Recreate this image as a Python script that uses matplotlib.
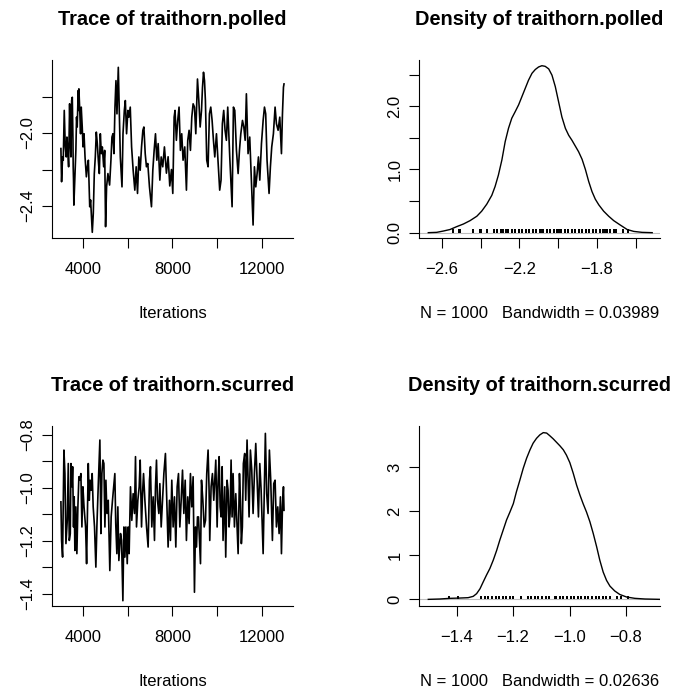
import numpy as np
import matplotlib
matplotlib.use('Agg')
import matplotlib.pyplot as plt

plt.rcParams['font.family'] = ['Liberation Sans', 'DejaVu Sans']
plt.rcParams['font.size'] = 12

# MCMC trace of traithorn.polled (iteration, value)
iter_polled = [3010, 3040, 3085, 3115, 3160, 3205, 3250, 3280, 3325, 3355, 3400, 3430, 3460, 3490,
               3520, 3550, 3560, 3575, 3590, 3635, 3680, 3710, 3740, 3785, 3800, 3815, 3860, 3890,
               3920, 3965, 4000, 4045, 4090, 4150, 4195, 4240, 4300, 4340, 4415, 4460, 4505, 4550,
               4595, 4640, 4685, 4730, 4775, 4820, 4865, 4925, 4970, 5010, 5055, 5115, 5190, 5250,
               5295, 5340, 5385, 5430, 5475, 5520, 5580, 5625, 5670, 5745, 5790, 5850, 5895, 5950,
               6010, 6055, 6115, 6175, 6245, 6320, 6380, 6440, 6500, 6560, 6620, 6680, 6725, 6785,
               6840, 6900, 6975, 7065, 7125, 7185, 7245, 7305, 7365, 7440, 7500, 7570, 7645, 7735,
               7810, 7885, 7960, 8020, 8080, 8120, 8180, 8240, 8300, 8360, 8420, 8480, 8555, 8630,
               8690, 8750, 8810, 8870, 8930, 8990, 9050, 9125, 9185, 9245, 9305, 9350, 9395, 9440,
               9480, 9540, 9600, 9660, 9720, 9780, 9840, 9900, 9975, 10120, 10180, 10240, 10300,
               10360, 10420, 10480, 10570, 10675, 10735, 10795, 10870, 10945, 11005, 11065, 11140,
               11200, 11260, 11315, 11390, 11465, 11615, 11675, 11735, 11795, 11855, 11915, 11990,
               12065, 12125, 12180, 12240, 12330, 12390, 12450, 12525, 12600, 12660, 12735, 12810,
               12885, 12930, 12975, 13000]
val_polled = [-2.085, -2.267, -2.131, -2.149, -1.876, -2.076, -2.131, -2.022, -2.113, -2.185, -1.840,
              -2.040, -2.131, -1.822, -1.804, -2.040, -2.185, -2.258, -2.395, -2.240, -2.095, -1.913,
              -1.967, -1.767, -1.876, -1.758, -1.895, -2.004, -1.858, -1.967, -2.076, -2.004, -2.131,
              -2.240, -2.185, -2.149, -2.404, -2.367, -2.544, -2.440, -2.222, -2.131, -1.995, -2.058,
              -2.149, -2.222, -2.004, -2.113, -2.076, -2.185, -2.095, -2.513, -2.295, -2.222, -2.285,
              -2.149, -2.022, -2.004, -2.113, -1.858, -1.713, -1.895, -1.640, -1.876, -2.131, -2.295,
              -2.004, -1.876, -1.822, -2.004, -1.876, -1.913, -1.858, -2.076, -2.204, -2.313, -2.185,
              -2.331, -2.131, -2.204, -2.076, -1.985, -1.967, -2.113, -2.185, -2.167, -2.295, -2.404,
              -2.204, -2.095, -2.004, -2.149, -2.058, -2.258, -2.131, -2.185, -2.076, -2.220, -2.130,
              -2.290, -2.200, -2.331, -1.913, -1.876, -2.040, -1.931, -1.858, -2.095, -2.004, -2.149,
              -2.076, -2.313, -2.040, -1.985, -2.095, -1.913, -1.840, -1.858, -2.004, -1.704, -1.822,
              -1.967, -1.876, -1.749, -1.667, -1.713, -1.822, -2.149, -2.185, -1.895, -1.858, -1.931,
              -2.040, -2.131, -2.004, -2.313, -2.258, -1.949, -1.876, -1.985, -2.040, -1.858, -2.131,
              -2.404, -1.858, -1.876, -2.095, -2.222, -2.095, -2.004, -1.931, -1.967, -2.040, -1.785,
              -2.113, -2.022, -2.504, -2.185, -2.295, -2.222, -2.131, -2.258, -2.058, -1.931, -1.858,
              -1.895, -2.149, -2.331, -2.185, -2.076, -2.004, -1.858, -1.949, -1.985, -1.913, -2.113,
              -1.895, -1.749, -1.731]

# MCMC trace of traithorn.scurred
iter_scurred = [3010, 3040, 3085, 3145, 3190, 3235, 3295, 3340, 3385, 3430, 3460, 3505, 3535, 3575,
                3605, 3635, 3680, 3725, 3770, 3815, 3860, 3905, 3950, 3995, 4045, 4115, 4160, 4235,
                4280, 4320, 4365, 4410, 4455, 4515, 4575, 4620, 4680, 4755, 4800, 4845, 4890, 4935,
                4980, 5025, 5070, 5130, 5200, 5260, 5320, 5425, 5465, 5515, 5560, 5605, 5680, 5725,
                5785, 5830, 5875, 5920, 5980, 6020, 6065, 6125, 6185, 6245, 6305, 6350, 6395, 6455,
                6515, 6560, 6620, 6665, 6710, 6770, 6845, 6915, 6975, 7020, 7080, 7140, 7200, 7245,
                7290, 7335, 7395, 7440, 7500, 7560, 7620, 7690, 7750, 7810, 7870, 7915, 7975, 8035,
                8095, 8155, 8215, 8275, 8335, 8395, 8455, 8515, 8575, 8630, 8690, 8750, 8810, 8870,
                8930, 8990, 9035, 9080, 9125, 9170, 9215, 9260, 9305, 9365, 9425, 9485, 9540, 9600,
                9645, 9675, 9735, 9795, 9855, 9945, 10005, 10050, 10095, 10140, 10185, 10230, 10270,
                10315, 10345, 10390, 10450, 10495, 10540, 10585, 10630, 10675, 10720, 10780, 10840,
                10945, 11005, 11050, 11090, 11135, 11180, 11240, 11285, 11345, 11390, 11435, 11495,
                11555, 11615, 11675, 11735, 11795, 11855, 11915, 11975, 12065, 12165, 12225, 12285,
                12345, 12405, 12480, 12540, 12600, 12660, 12720, 12780, 12840, 12885, 12930, 12975,
                13000]
val_scurred = [-1.053, -1.199, -1.262, -0.857, -0.946, -1.211, -1.123, -0.908, -1.199, -1.173, -0.908,
               -0.996, -0.920, -1.148, -1.034, -1.237, -1.072, -1.249, -1.072, -0.958, -0.971, -0.946,
               -1.148, -0.996, -1.072, -1.148, -1.287, -0.908, -1.047, -0.971, -1.009, -0.946, -1.072,
               -1.148, -1.300, -1.148, -0.996, -0.819, -1.173, -0.946, -0.895, -0.908, -1.148, -0.971,
               -1.097, -1.047, -1.313, -1.110, -1.047, -0.946, -1.135, -1.249, -1.072, -1.275, -1.173,
               -1.199, -1.427, -1.148, -1.262, -1.148, -1.287, -1.148, -1.249, -0.996, -1.123, -1.022,
               -1.097, -0.882, -1.148, -1.047, -0.996, -0.895, -1.148, -1.022, -0.946, -1.047, -1.148,
               -1.224, -0.971, -0.920, -1.148, -1.034, -1.199, -0.996, -0.895, -1.047, -1.097, -0.984,
               -1.148, -1.047, -0.946, -0.870, -1.047, -1.224, -1.047, -1.199, -0.971, -1.148, -1.034,
               -1.224, -0.996, -0.946, -1.148, -1.047, -0.933, -1.097, -0.971, -1.199, -1.034, -1.135,
               -0.946, -1.072, -0.958, -1.395, -1.148, -1.224, -1.110, -1.110, -1.199, -1.287, -0.971,
               -1.047, -1.148, -1.123, -0.946, -0.857, -1.009, -1.199, -0.996, -0.946, -1.047, -0.895,
               -1.148, -0.971, -0.882, -1.072, -1.110, -0.920, -1.199, -1.072, -0.996, -1.262, -0.971,
               -1.009, -1.148, -1.097, -0.895, -1.110, -0.946, -1.148, -1.022, -1.249, -0.946, -1.047,
               -1.211, -1.148, -0.908, -0.870, -1.047, -0.819, -0.971, -1.110, -0.857, -0.933, -1.097,
               -0.946, -0.832, -0.971, -1.110, -0.908, -1.009, -1.249, -0.794, -1.022, -1.097, -0.857,
               -0.971, -1.199, -0.984, -0.971, -1.148, -1.072, -1.173, -1.034, -1.249, -1.072, -0.996,
               -1.085]

# kernel density curves as drawn in the picture
dens_x_polled = [-2.669, -2.626, -2.591, -2.557, -2.523, -2.488, -2.454, -2.419, -2.394, -2.368,
                 -2.342, -2.325, -2.308, -2.290, -2.273, -2.256, -2.239, -2.222, -2.204, -2.187,
                 -2.170, -2.153, -2.135, -2.118, -2.101, -2.084, -2.067, -2.049, -2.032, -2.015,
                 -1.998, -1.981, -1.963, -1.946, -1.929, -1.912, -1.895, -1.877, -1.860, -1.843,
                 -1.826, -1.809, -1.791, -1.766, -1.740, -1.714, -1.680, -1.645, -1.611, -1.568,
                 -1.516]
dens_y_polled = [0.0, 0.005, 0.026, 0.05, 0.095, 0.137, 0.19, 0.26, 0.34, 0.45,
                 0.59, 0.73, 0.91, 1.15, 1.44, 1.65, 1.81, 1.91, 2.02, 2.15,
                 2.28, 2.41, 2.52, 2.58, 2.62, 2.64, 2.63, 2.59, 2.49, 2.31,
                 2.07, 1.83, 1.65, 1.54, 1.46, 1.37, 1.28, 1.16, 1.00, 0.81,
                 0.65, 0.53, 0.44, 0.34, 0.26, 0.19, 0.12, 0.05, 0.02, 0.005,
                 0.0]
dens_x_scurred = [-1.500, -1.459, -1.424, -1.388, -1.359, -1.341, -1.329, -1.317, -1.306, -1.294,
                  -1.282, -1.270, -1.258, -1.247, -1.235, -1.223, -1.211, -1.199, -1.188, -1.176,
                  -1.164, -1.152, -1.140, -1.129, -1.117, -1.105, -1.093, -1.081, -1.070, -1.058,
                  -1.046, -1.034, -1.022, -1.011, -0.999, -0.987, -0.975, -0.963, -0.952, -0.940,
                  -0.928, -0.916, -0.904, -0.893, -0.881, -0.869, -0.857, -0.840, -0.822, -0.798,
                  -0.769, -0.733, -0.680]
dens_y_scurred = [0.0, 0.008, 0.023, 0.03, 0.038, 0.068, 0.129, 0.24, 0.39, 0.55,
                  0.70, 0.89, 1.11, 1.34, 1.57, 1.80, 1.98, 2.17, 2.44, 2.70,
                  2.97, 3.20, 3.39, 3.54, 3.65, 3.73, 3.78, 3.77, 3.71, 3.64,
                  3.56, 3.48, 3.39, 3.27, 3.10, 2.86, 2.59, 2.36, 2.17, 1.98,
                  1.76, 1.49, 1.19, 0.89, 0.62, 0.43, 0.30, 0.19, 0.11, 0.053,
                  0.023, 0.008, 0.0]

M = '\u2212'
trace_xticks = [4000, 6000, 8000, 10000, 12000]
trace_xlabels = ['4000', '', '8000', '', '12000']


def style(ax):
    ax.spines['top'].set_visible(False)
    ax.spines['right'].set_visible(False)
    for s in ['left', 'bottom']:
        ax.spines[s].set_linewidth(0.8)
    ax.tick_params(length=7, width=0.8, pad=10)
    ax.tick_params(axis='y', pad=5)


def set_yticks(ax, ticks, labels):
    ax.set_yticks(ticks)
    ax.set_yticklabels(labels, rotation=90, va='center')


def trace_panel(ax, it, val, name, ylim, yticks, ylabels):
    ax.plot(it, val, color='black', lw=1.2)
    ax.set_xlim(2610, 13400)
    ax.set_ylim(*ylim)
    ax.set_xticks(trace_xticks)
    ax.set_xticklabels(trace_xlabels)
    set_yticks(ax, yticks, ylabels)
    ax.set_title('Trace of ' + name, fontsize=14.4, fontweight='bold', pad=25)
    ax.set_xlabel('Iterations', labelpad=21)
    style(ax)


def density_panel(ax, dx, dy, obs, name, bw, xlim, ylim, xticks, xlabels, yticks, ylabels):
    ax.axhline(0, color='#bebebe', lw=0.8)
    ax.plot(dx, dy, color='black', lw=1.0)
    # rug of the observations, as coda's densplot draws it
    ax.vlines(obs, 0, max(dy) / 50, color='black', lw=1.4)
    ax.set_xlim(*xlim)
    ax.set_ylim(*ylim)
    ax.set_xticks(xticks)
    ax.set_xticklabels(xlabels)
    set_yticks(ax, yticks, ylabels)
    ax.set_title('Density of ' + name, fontsize=14.4, fontweight='bold', pad=25)
    ax.set_xlabel('N = 1000   Bandwidth = ' + bw, labelpad=21)
    style(ax)


fig = plt.figure(figsize=(6.75, 6.89), dpi=100)

ax1 = fig.add_axes([0.0770, 0.6546, 0.357, 0.2583])
trace_panel(ax1, iter_polled, val_polled, 'traithorn.polled', (-2.575, -1.60),
            [-2.4, -2.2, -2.0, -1.8], [M + '2.4', '', M + '2.0', ''])

ax2 = fig.add_axes([0.6207, 0.6546, 0.357, 0.2583])
density_panel(ax2, dens_x_polled, dens_y_polled, val_polled, 'traithorn.polled', '0.03989',
              (-2.717, -1.476), (-0.084, 2.73),
              [-2.6, -2.4, -2.2, -2.0, -1.8, -1.6], [M + '2.6', '', M + '2.2', '', M + '1.8', ''],
              [0.0, 0.5, 1.0, 1.5, 2.0, 2.5], ['0.0', '', '1.0', '', '2.0', ''])

ax3 = fig.add_axes([0.0770, 0.1205, 0.357, 0.2612])
trace_panel(ax3, iter_scurred, val_scurred, 'traithorn.scurred', (-1.447, -0.766),
            [-1.4, -1.3, -1.2, -1.1, -1.0, -0.9, -0.8],
            [M + '1.4', '', M + '1.2', '', M + '1.0', '', M + '0.8'])

ax4 = fig.add_axes([0.6207, 0.1205, 0.357, 0.2612])
density_panel(ax4, dens_x_scurred, dens_y_scurred, val_scurred, 'traithorn.scurred', '0.02636',
              (-1.533, -0.68), (-0.15, 3.93),
              [-1.4, -1.2, -1.0, -0.8], [M + '1.4', M + '1.2', M + '1.0', M + '0.8'],
              [0, 1, 2, 3], ['0', '1', '2', '3'])

fig.savefig('out.png', dpi=100)
